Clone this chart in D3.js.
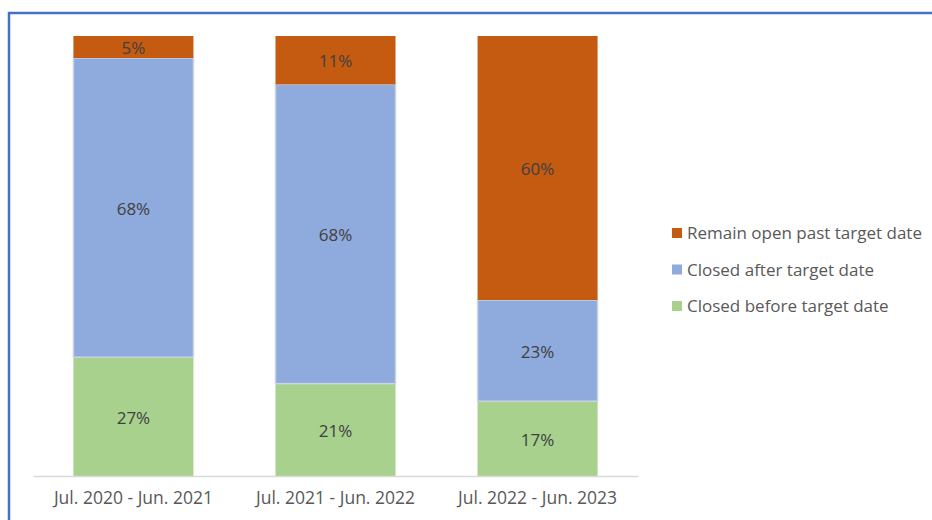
<!DOCTYPE html>
<html>
<head>
<meta charset="utf-8">
<script src="https://cdn.jsdelivr.net/npm/d3@7"></script>
<style>
  body { margin: 0; background: #fff; }
  svg { display: block; font-family: "Open Sans", Lato, sans-serif; }
</style>
</head>
<body>
<svg id="chart" width="932" height="520"></svg>
<script>
// periods on the x axis
const periods = ["Jul. 2020 - Jun. 2021", "Jul. 2021 - Jun. 2022", "Jul. 2022 - Jun. 2023"];
// series, bottom to top
const closedBefore = [27, 21, 17];
const closedAfter = [68, 68, 23];
const remainOpen = [5, 11, 60];
const seriesNames = ["Closed before target date", "Closed after target date", "Remain open past target date"];
const colors = ["#A9D18E", "#8FAADC", "#C55A11"];

const svg = d3.select("#chart");

// blue frame around the chart area
svg.append("path")
  .attr("d", "M9,540 V13 H950")
  .attr("fill", "none")
  .attr("stroke", "#4472C4")
  .attr("stroke-width", 2.5);

const plotLeft = 33, plotRight = 638, plotTop = 36, plotBottom = 476;

const rows = periods.map((p, i) => ({
  period: p,
  s0: closedBefore[i],
  s1: closedAfter[i],
  s2: remainOpen[i]
}));
const stack = d3.stack().keys(["s0", "s1", "s2"]);
const stacked = stack(rows);

const x = d3.scaleBand().domain(periods).range([plotLeft, plotRight]).paddingInner(0.406).paddingOuter(0.2);
const y = d3.scaleLinear().domain([0, 100]).range([plotBottom, plotTop]);

const layers = svg.append("g").selectAll("g")
  .data(stacked)
  .join("g")
  .attr("fill", (d, i) => colors[i]);

layers.selectAll("rect")
  .data(d => d.map(v => ({ v, key: d.key })))
  .join("rect")
  .attr("x", d => x(d.v.data.period))
  .attr("y", d => y(d.v[1]))
  .attr("width", x.bandwidth())
  .attr("height", d => y(d.v[0]) - y(d.v[1]))
  .attr("stroke", d => d.key === "s1" ? "#c9d3e3" : "none")
  .attr("stroke-width", 1.5);

layers.selectAll("text")
  .data(d => d.map(v => v))
  .join("text")
  .attr("x", d => x(d.data.period) + x.bandwidth() / 2)
  .attr("y", d => (y(d[0]) + y(d[1])) / 2)
  .attr("dy", "0.42em")
  .attr("text-anchor", "middle")
  .attr("fill", "#404040")
  .style("font-size", "17px")
  .text(d => (d[1] - d[0]) + "%");

// x axis
const xAxis = svg.append("g")
  .attr("transform", `translate(0,${plotBottom})`)
  .call(d3.axisBottom(x).tickSize(0).tickPadding(16));
xAxis.select(".domain").attr("stroke", "#d9d9d9").attr("stroke-width", 1.5);
xAxis.selectAll("text")
  .attr("fill", "#595959")
  .style("font-size", "17.5px")
  .style("font-family", "'Open Sans', Lato, sans-serif");

// legend, top entry first
const legendOrder = [2, 1, 0];
const legend = svg.append("g").selectAll("g")
  .data(legendOrder)
  .join("g")
  .attr("transform", (d, i) => `translate(672,${233 + i * 36.5})`);
legend.append("rect")
  .attr("x", 0).attr("y", -5)
  .attr("width", 10).attr("height", 10)
  .attr("fill", d => colors[d]);
legend.append("text")
  .attr("x", 15)
  .attr("dy", "0.37em")
  .attr("fill", "#595959")
  .style("font-size", "17px")
  .text(d => seriesNames[d]);
</script>
</body>
</html>
